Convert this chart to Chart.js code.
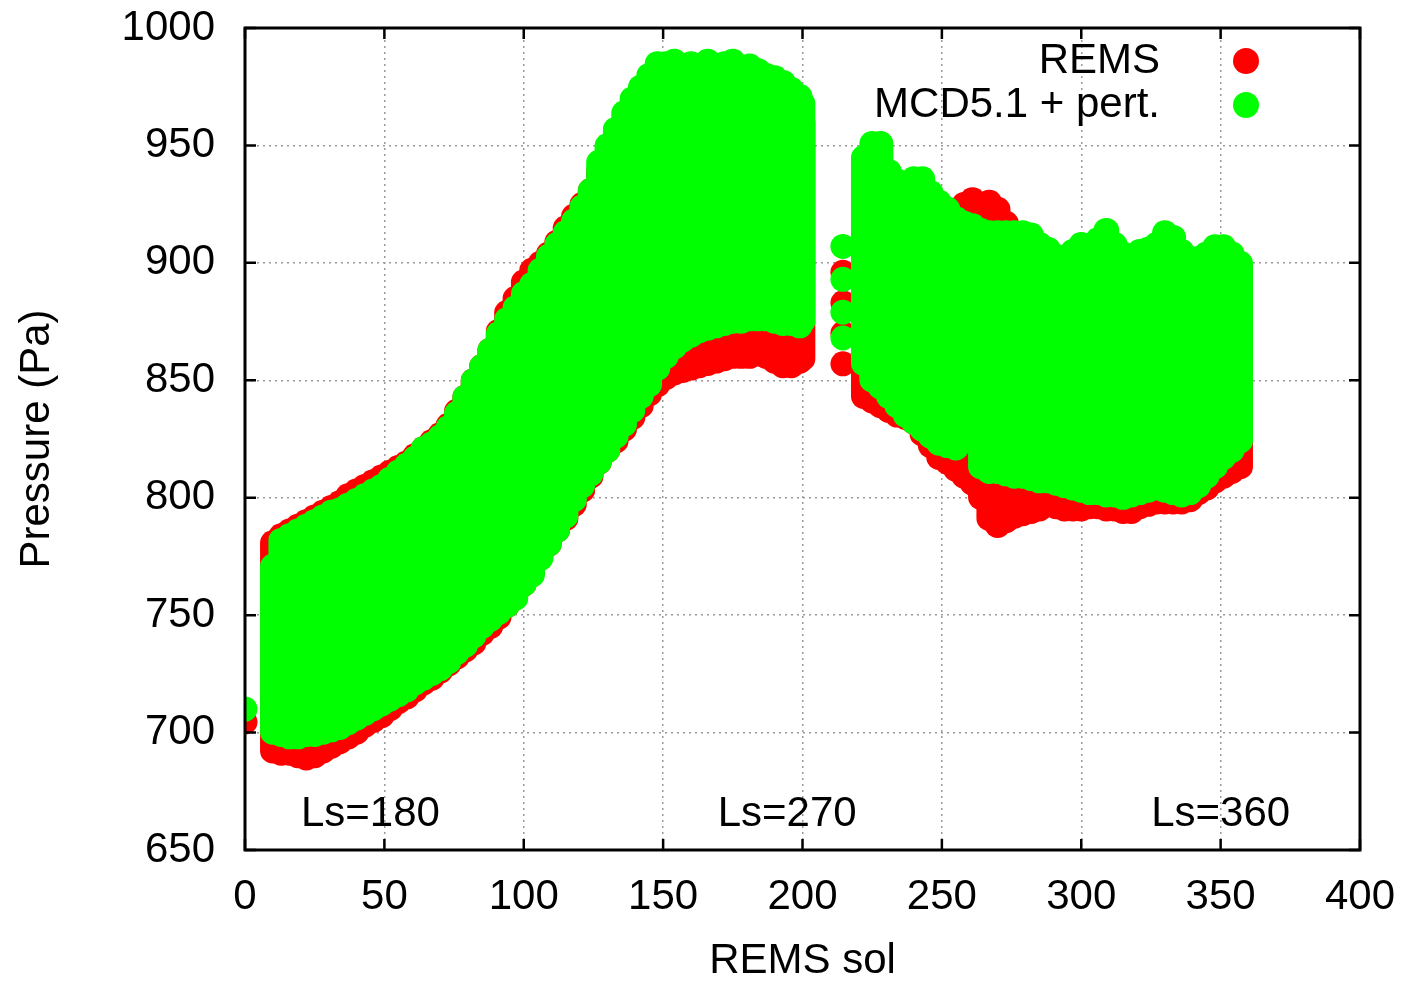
<!DOCTYPE html>
<html>
<head>
<meta charset="utf-8">
<title>REMS pressure</title>
<script src="https://cdn.jsdelivr.net/npm/chart.js@4/dist/chart.umd.min.js"></script>
<style>
  html, body { margin: 0; padding: 0; background: #fff; }
  #wrap { width: 1409px; height: 982px; }
</style>
</head>
<body>
<div id="wrap"><canvas id="chart" width="1409" height="982"></canvas></div>
<script>
// daily spread of surface pressure (Pa): lowest and highest sample per sol
const remsSol  = [10,13,16,19,22,25,28,31,34,37,40,43,46,49,52,55,58,61,64,67,70,73,76,79,82,85,88,91,94,97,100,103,106,109,112,115,118,121,124,127,130,133,136,139,142,145,148,151,154,157,160,163,166,169,172,175,178,181,184,187,190,193,196,199,200,
                  222,225,228,231,234,237,240,243,246,249,252,255,258,261,264,267,270,273,276,279,282,285,288,291,294,297,300,303,306,309,312,315,318,321,324,327,330,333,336,339,342,345,348,351,354,357];
const remsLow  = [687,686,686,685,684,685,687,689,691,693,695,698,700,702,705,708,710,713,716,718,721,724,727,730,733,737,740,744,749,753,758,763,770,775,781,786,792,798,804,810,815,819,824,829,834,839,843,846,848,849,850,851,852,853,854,855,855,855,856,855,853,851,851,853,854,
                  838,836,834,832,830,829,827,822,817,812,810,807,804,801,795,786,783,785,787,788,789,790,792,791,790,790,790,791,791,790,790,789,789,791,792,793,793,793,793,794,797,799,802,804,806,808];
const remsHigh = [786,789,791,793,795,797,799,801,803,806,808,810,812,814,816,818,820,823,826,829,832,836,842,848,855,861,868,876,884,890,897,902,905,909,914,920,925,930,936,944,950,958,964,970,975,980,984,985,985,984,985,984,985,984,985,984,983,983,981,980,978,975,972,968,965,
                  935,940,940,936,934,933,933,932,929,926,924,922,930,932,929,931,928,922,916,914,913,911,909,906,904,906,908,908,910,913,909,906,905,906,907,909,912,910,906,904,904,905,907,907,905,902];

const mcdSol  = [10,13,16,19,22,25,28,31,34,37,40,43,46,49,52,55,58,61,64,67,70,73,76,79,82,85,88,91,94,97,100,103,106,109,112,115,118,121,124,127,130,133,136,139,142,145,148,151,154,157,160,163,166,169,172,175,178,181,184,187,190,193,196,199,200,
                 222,225,228,231,234,237,240,243,246,249,252,255,258,261,264,267,270,273,276,279,282,285,288,291,294,297,300,303,306,309,312,315,318,321,324,327,330,333,336,339,342,345,348,351,354,357];
const mcdLow  = [695,694,693,693,694,694,695,696,697,699,701,703,705,707,709,711,713,716,718,720,722,725,729,732,736,740,743,746,749,752,758,762,769,775,781,787,794,800,805,810,815,821,826,832,838,843,850,855,859,862,864,866,867,868,869,870,870,871,871,871,870,869,869,868,870,
                 852,845,842,838,834,830,827,824,821,818,817,816,820,822,808,806,806,805,804,804,803,802,802,801,800,799,798,797,797,796,796,795,796,797,798,799,798,797,796,797,800,804,808,812,815,819];
const mcdHigh = [776,787,789,791,793,795,797,799,800,802,804,806,808,810,813,816,819,822,826,828,831,835,841,848,855,861,868,875,881,886,892,896,902,908,913,918,923,929,936,948,955,962,969,975,980,985,990,990,991,989,990,989,991,989,990,991,988,989,987,985,984,982,979,976,973,
                 950,956,956,944,940,939,941,941,935,931,928,924,922,921,919,918,918,918,918,918,917,913,911,908,906,910,913,912,915,919,913,909,908,910,911,913,918,916,910,907,907,909,912,912,909,905];

// single samples outside the main runs
const remsSpotSol = [0, 214.5, 214.5, 214.5, 214.5];
const remsSpotP   = [704.5, 896, 883, 870, 857];
const mcdSpotSol  = [0, 214.5, 214.5, 214.5, 214.5];
const mcdSpotP    = [710, 907, 893, 879, 868];

const xTicks = [0, 50, 100, 150, 200, 250, 300, 350, 400];
const yTicks = [650, 700, 750, 800, 850, 900, 950, 1000];

const lsText = ["Ls=180", "Ls=270", "Ls=360"];
const lsSol  = [45, 194.5, 350];
const lsP    = [665, 665, 665];

const RED = "#ff0000";
const GREEN = "#00ff00";
const FONT = '"Liberation Sans", Arial, Helvetica, sans-serif';

Chart.defaults.font.family = FONT;
Chart.defaults.font.size = 42;
Chart.defaults.color = "#000";

function bandData(sols, lows, highs) {
    return sols.map((s, i) => ({ x: s, y: [lows[i], highs[i]] }));
}

function spotData(sols, vals) {
    return sols.map((s, i) => ({ x: s, y: vals[i] }));
}

// each sol's spread drawn as a capsule, i.e. a stack of round markers
function bandSet(label, color, data, order) {
    return {
        type: "bar",
        label: label,
        data: data,
        backgroundColor: color,
        borderWidth: 0,
        borderSkipped: false,
        borderRadius: 12.5,
        barThickness: 25,
        grouped: false,
        order: order
    };
}

function spotSet(label, color, data, order) {
    return {
        type: "scatter",
        label: label,
        data: data,
        backgroundColor: color,
        borderWidth: 0,
        pointRadius: 12.5,
        order: order
    };
}

// border with inward tick marks on all four sides
const framePlugin = {
    id: "frame",
    afterDatasetsDraw(chart) {
        const { ctx, chartArea: a, scales } = chart;
        const tick = 11;
        ctx.save();
        ctx.strokeStyle = "#000";
        ctx.lineWidth = 2.5;
        ctx.beginPath();
        xTicks.forEach(v => {
            const px = scales.x.getPixelForValue(v);
            ctx.moveTo(px, a.bottom);
            ctx.lineTo(px, a.bottom - tick);
            ctx.moveTo(px, a.top);
            ctx.lineTo(px, a.top + tick);
        });
        yTicks.forEach(v => {
            const py = scales.y.getPixelForValue(v);
            ctx.moveTo(a.left, py);
            ctx.lineTo(a.left + tick, py);
            ctx.moveTo(a.right, py);
            ctx.lineTo(a.right - tick, py);
        });
        ctx.stroke();
        ctx.lineWidth = 3;
        ctx.strokeRect(a.left, a.top, a.right - a.left, a.bottom - a.top);
        ctx.restore();
    }
};

// key in the top right corner and the season marks along the bottom
const keyPlugin = {
    id: "key",
    afterDraw(chart) {
        const { ctx, chartArea: a, scales } = chart;
        ctx.save();
        ctx.font = "42px " + FONT;
        ctx.fillStyle = "#000";
        ctx.textBaseline = "middle";

        const entries = [
            { text: "REMS", color: RED },
            { text: "MCD5.1 + pert.", color: GREEN }
        ];
        entries.forEach((e, i) => {
            const y = a.top + 33 + i * 44;
            ctx.fillStyle = "#000";
            ctx.textAlign = "right";
            ctx.fillText(e.text, a.right - 200, y);
            ctx.fillStyle = e.color;
            ctx.beginPath();
            ctx.arc(a.right - 114, y, 13, 0, Math.PI * 2);
            ctx.fill();
        });

        ctx.fillStyle = "#000";
        ctx.textAlign = "center";
        lsText.forEach((t, i) => {
            ctx.fillText(t, scales.x.getPixelForValue(lsSol[i]), scales.y.getPixelForValue(lsP[i]));
        });
        ctx.restore();
    }
};

new Chart(document.getElementById("chart"), {
    type: "bar",
    data: {
        datasets: [
            bandSet("REMS", RED, bandData(remsSol, remsLow, remsHigh), 3),
            spotSet("REMS", RED, spotData(remsSpotSol, remsSpotP), 2),
            bandSet("MCD5.1 + pert.", GREEN, bandData(mcdSol, mcdLow, mcdHigh), 1),
            spotSet("MCD5.1 + pert.", GREEN, spotData(mcdSpotSol, mcdSpotP), 0)
        ]
    },
    options: {
        responsive: false,
        animation: false,
        events: [],
        layout: { padding: 0 },
        plugins: {
            legend: { display: false },
            tooltip: { enabled: false }
        },
        scales: {
            x: {
                type: "linear",
                min: 0,
                max: 400,
                offset: false,
                // fixed box: plot spans 245..1360 px
                afterFit: s => { s.height = 132; s.paddingLeft = 0; s.paddingRight = 49; },
                afterBuildTicks: s => { s.ticks = xTicks.map(v => ({ value: v })); },
                ticks: { padding: 22, maxRotation: 0, color: "#000", callback: v => String(v) },
                grid: { offset: false, drawTicks: false, color: "#9a9a9a", lineWidth: 1.5 },
                border: { display: false, dash: [2, 4] },
                title: {
                    display: true,
                    text: "REMS sol",
                    font: { size: 42, lineHeight: 1 },
                    padding: { top: 0, bottom: 0 }
                }
            },
            y: {
                type: "linear",
                min: 650,
                max: 1000,
                beginAtZero: false,
                // fixed box: plot spans 28..850 px
                afterFit: s => { s.width = 245; s.paddingTop = 28; s.paddingBottom = 0; },
                afterBuildTicks: s => { s.ticks = yTicks.map(v => ({ value: v })); },
                ticks: { padding: 30, color: "#000", callback: v => String(v) },
                grid: { drawTicks: false, color: "#9a9a9a", lineWidth: 1.5 },
                border: { display: false, dash: [2, 4] },
                title: {
                    display: true,
                    text: "Pressure (Pa)",
                    font: { size: 42, lineHeight: 1 },
                    padding: { top: 16, bottom: 0 }
                }
            }
        }
    },
    plugins: [framePlugin, keyPlugin]
});
</script>
</body>
</html>
